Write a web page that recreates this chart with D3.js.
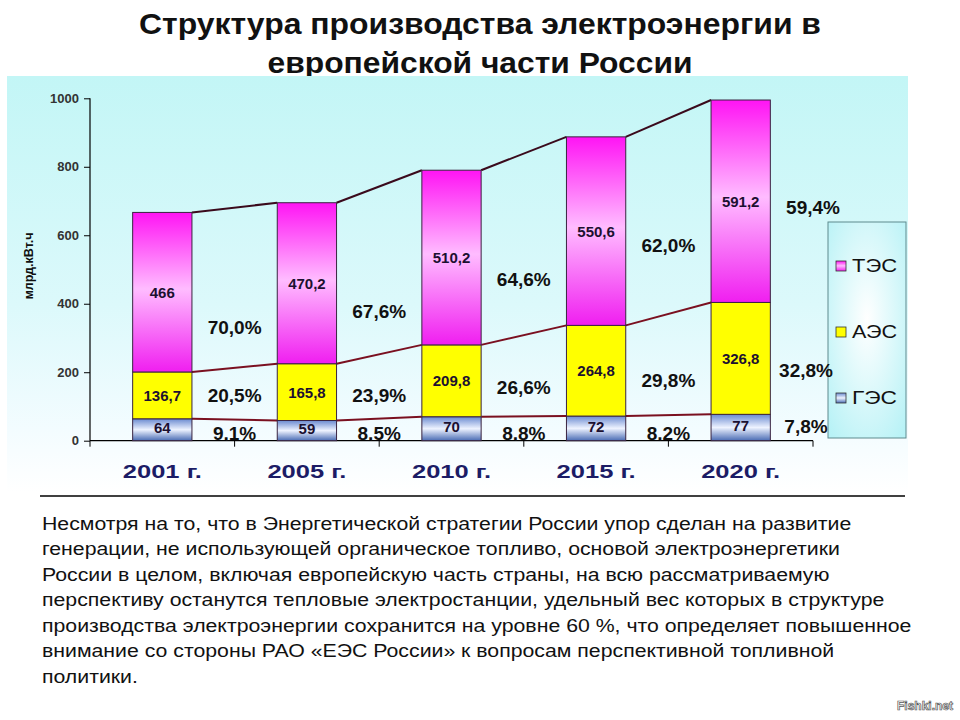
<!DOCTYPE html>
<html>
<head>
<meta charset="utf-8">
<script src="https://cdn.jsdelivr.net/npm/d3@7"></script>
<style>
  body { margin: 0; background: #fff; }
  svg { display: block; }
</style>
</head>
<body>
<svg id="chart" width="960" height="720"></svg>
<script>
// values
const years = ['2001 г.', '2005 г.', '2010 г.', '2015 г.', '2020 г.'];
const gesValues = [64, 59, 70, 72, 77];
const aesValues = [136.7, 165.8, 209.8, 264.8, 326.8];
const tesValues = [466, 470.2, 510.2, 550.6, 591.2];
const gesShare = [9.1, 8.5, 8.8, 8.2, 7.8];
const aesShare = [20.5, 23.9, 26.6, 29.8, 32.8];
const tesShare = [70.0, 67.6, 64.6, 62.0, 59.4];
const seriesKeys = ['ges', 'aes', 'tes'];
const seriesNames = ['ГЭС', 'АЭС', 'ТЭС'];
const yTicks = [0, 200, 400, 600, 800, 1000];
const yLabel = 'млрд.кВт.ч';
const titleLines = ['Структура производства электроэнергии в', 'европейской части России'];
const noteLines = [
    'Несмотря на то, что в Энергетической стратегии России упор сделан на развитие',
    'генерации, не использующей органическое топливо, основой электроэнергетики',
    'России в целом, включая европейскую часть страны, на всю рассматриваемую',
    'перспективу останутся тепловые электростанции, удельный вес которых в структуре',
    'производства электроэнергии сохранится на уровне 60 %, что определяет повышенное',
    'внимание со стороны РАО «ЕЭС России» к вопросам перспективной топливной',
    'политики.'
];

const rows = years.map((y, i) => ({year: y, ges: gesValues[i], aes: aesValues[i], tes: tesValues[i]}));
const stacked = d3.stack().keys(seriesKeys)(rows);
const shares = {ges: gesShare, aes: aesShare, tes: tesShare};

const svg = d3.select('#chart');
const font = "'Liberation Sans', Arial, sans-serif";
const narrow = "'Liberation Sans Narrow', 'Liberation Sans', Arial, sans-serif";
const comma = v => String(v).replace('.', ',');
const pct = v => d3.format('.1f')(v).replace('.', ',') + '%';

// gradients
let defs = svg.append('defs');
let panelGrad = defs.append('linearGradient').attr('id', 'panel').attr('x1', 0).attr('x2', 0).attr('y1', 0).attr('y2', 1);
panelGrad.append('stop').attr('offset', '0%').attr('stop-color', '#c3f6f6');
panelGrad.append('stop').attr('offset', '55%').attr('stop-color', '#dcf9fb');
panelGrad.append('stop').attr('offset', '85%').attr('stop-color', '#f3fcff');
panelGrad.append('stop').attr('offset', '100%').attr('stop-color', '#ffffff');

let tesGrad = defs.append('linearGradient').attr('id', 'tes').attr('x1', 0).attr('x2', 0).attr('y1', 0).attr('y2', 1);
tesGrad.append('stop').attr('offset', '0%').attr('stop-color', '#ff14f4');
tesGrad.append('stop').attr('offset', '48%').attr('stop-color', '#ffbcff');
tesGrad.append('stop').attr('offset', '100%').attr('stop-color', '#f01ef0');

let gesGrad = defs.append('linearGradient').attr('id', 'ges').attr('x1', 0).attr('x2', 0).attr('y1', 0).attr('y2', 1);
gesGrad.append('stop').attr('offset', '0%').attr('stop-color', '#6a8ad0');
gesGrad.append('stop').attr('offset', '50%').attr('stop-color', '#eef3ff');
gesGrad.append('stop').attr('offset', '100%').attr('stop-color', '#4a6cb4');

let legendGrad = defs.append('radialGradient').attr('id', 'legendBg').attr('cx', '50%').attr('cy', '45%').attr('r', '70%');
legendGrad.append('stop').attr('offset', '0%').attr('stop-color', '#ffffff');
legendGrad.append('stop').attr('offset', '100%').attr('stop-color', '#b8f2f6');

const fills = {ges: 'url(#ges)', aes: '#ffff00', tes: 'url(#tes)'};

// title (the panel is laid over its lower edge, like on the slide)
svg.selectAll('text.title').data(titleLines).join('text')
    .attr('class', 'title')
    .attr('x', 480).attr('y', (d, i) => 34 + i * 39)
    .attr('text-anchor', 'middle')
    .attr('font-family', narrow).attr('font-weight', 'bold').attr('font-size', 30)
    .attr('textLength', (d, i) => i === 0 ? 682 : 425).attr('lengthAdjust', 'spacingAndGlyphs')
    .attr('fill', '#111')
    .text(d => d);

svg.append('rect').attr('x', 7).attr('y', 76).attr('width', 901).attr('height', 416).attr('fill', 'url(#panel)');

// scales
const x = d3.scaleBand().domain(years).range([90, 813]).paddingInner(0).paddingOuter(0);
const y = d3.scaleLinear().domain([0, 1000]).range([440.7, 98.3]);
const bw = x.bandwidth();
const barW = bw * 0.41;
const barX = d => x(d) + (bw - barW) / 2;

defs.append('clipPath').attr('id', 'aboveAxis').append('rect')
    .attr('x', 0).attr('y', 0).attr('width', 960).attr('height', y(0));

// axes
let yAxis = svg.append('g').attr('transform', 'translate(90,0)')
    .call(d3.axisLeft(y).tickValues(yTicks).tickFormat(d3.format('d')).tickSize(6).tickPadding(5));
yAxis.select('.domain').attr('stroke', '#000').attr('stroke-width', 1.2).attr('d', 'M0,' + y(0) + 'V' + y(1000));
yAxis.selectAll('.tick line').attr('stroke', '#000');
yAxis.selectAll('.tick text').attr('font-family', font).attr('font-weight', 'bold')
    .attr('font-size', 13).attr('fill', '#333');

let xAxis = svg.append('g').attr('transform', 'translate(0,' + y(0) + ')');
xAxis.append('line').attr('x1', 90).attr('x2', 813).attr('stroke', '#000').attr('stroke-width', 1.2);
xAxis.selectAll('line.tick').data(years.concat(['end'])).join('line')
    .attr('class', 'tick')
    .attr('x1', (d, i) => 90 + i * bw).attr('x2', (d, i) => 90 + i * bw)
    .attr('y1', 0).attr('y2', 6).attr('stroke', '#000');
xAxis.selectAll('text').data(years).join('text')
    .attr('x', d => x(d) + bw / 2).attr('y', 37)
    .attr('text-anchor', 'middle')
    .attr('font-family', font).attr('font-weight', 'bold').attr('font-size', 19)
    .attr('textLength', 79).attr('lengthAdjust', 'spacingAndGlyphs')
    .attr('fill', '#1c1c66')
    .text(d => d);

svg.append('text')
    .attr('transform', 'translate(33,266) rotate(-90)')
    .attr('text-anchor', 'middle')
    .attr('font-family', font).attr('font-weight', 'bold').attr('font-size', 12)
    .attr('textLength', 67).attr('lengthAdjust', 'spacingAndGlyphs')
    .attr('fill', '#111')
    .text(yLabel);

// legend (drawn before the share labels, which overlap its left border)
let legend = svg.append('g');
legend.append('rect').attr('x', 828).attr('y', 222).attr('width', 78).attr('height', 216)
    .attr('fill', 'url(#legendBg)').attr('stroke', '#5f8a8e').attr('stroke-width', 1);
let items = legend.selectAll('g').data(seriesKeys.slice().reverse()).join('g')
    .attr('transform', (d, i) => 'translate(836,' + (266 + i * 66) + ')');
items.append('rect').attr('x', 0).attr('y', -5).attr('width', 10).attr('height', 10)
    .attr('fill', d => fills[d]).attr('stroke', '#333').attr('stroke-width', 0.8);
items.append('text').attr('x', 16).attr('y', 0).attr('dy', '0.36em')
    .attr('font-family', font).attr('font-size', 18)
    .attr('textLength', 45).attr('lengthAdjust', 'spacingAndGlyphs')
    .attr('fill', '#111')
    .text(d => seriesNames[seriesKeys.indexOf(d)]);

// connecting lines between bar tops
const lineColors = {ges: '#7a1020', aes: '#7a1020', tes: '#3a0a1c'};
stacked.forEach(s => {
    let segs = [];
    for (let i = 0; i < s.length - 1; i++) {
        segs.push([barX(years[i]) + barW, y(s[i][1]), barX(years[i + 1]), y(s[i + 1][1])]);
    }
    svg.append('g').selectAll('line').data(segs).join('line')
        .attr('x1', d => d[0]).attr('y1', d => d[1]).attr('x2', d => d[2]).attr('y2', d => d[3])
        .attr('stroke', lineColors[s.key]).attr('stroke-width', 2);
});

// bars
stacked.forEach(s => {
    let g = svg.append('g');
    g.selectAll('rect').data(s).join('rect')
        .attr('x', d => barX(d.data.year))
        .attr('y', d => y(d[1]))
        .attr('width', barW)
        .attr('height', d => y(d[0]) - y(d[1]))
        .attr('fill', fills[s.key])
        .attr('stroke', '#3a2440').attr('stroke-width', 1);
    g.selectAll('text').data(s).join('text')
        .attr('x', d => barX(d.data.year) + barW / 2)
        .attr('y', d => (y(d[0]) + y(d[1])) / 2 + (s.key === 'ges' ? -2 : 0))
        .attr('dy', '0.36em')
        .attr('text-anchor', 'middle')
        .attr('font-family', font).attr('font-weight', 'bold').attr('font-size', 15)
        .attr('fill', '#1c1030')
        .text(d => comma(d.data[s.key]));
});

// share labels in the gaps; the last column sits a little left of the axis end
const last = years.length - 1;
stacked.forEach(s => {
    let g = svg.append('g');
    if (s.key === 'ges') g.attr('clip-path', 'url(#aboveAxis)');
    g.selectAll('text').data(s).join('text')
        .attr('x', (d, i) => x(d.data.year) + bw - (i === last && s.key !== 'tes' ? 7 : 0))
        .attr('y', (d, i) => {
            if (s.key === 'ges') return i === last ? y(0) - 8 : y(0) - 1;
            if (s.key === 'aes') return (y(d[0]) + y(d[1])) / 2 + 3 * i;
            return y(d[0] + (d[1] - d[0]) * (0.28 + 0.048 * i));
        })
        .attr('dy', s.key === 'ges' ? 0 : '0.36em')
        .attr('text-anchor', 'middle')
        .attr('font-family', font).attr('font-weight', 'bold').attr('font-size', 19)
        .attr('fill', '#111')
        .text((d, i) => pct(shares[s.key][i]));
});

// rule and note
svg.append('line').attr('x1', 40).attr('x2', 905).attr('y1', 496).attr('y2', 496)
    .attr('stroke', '#000').attr('stroke-width', 1.5);

let note = svg.append('g');
let noteText = note.selectAll('text').data(noteLines).join('text')
    .attr('x', 0).attr('y', (d, i) => 530 + i * 25.5)
    .attr('font-family', narrow).attr('font-size', 18.5)
    .attr('fill', '#111')
    .text(d => d);
// squeeze the note so its longest line ends where it does on the slide
let widest = d3.max(noteText.nodes(), n => n.getComputedTextLength());
note.attr('transform', 'translate(42,0) scale(' + (870 / widest) + ',1)');

svg.append('text').attr('x', 953).attr('y', 710).attr('text-anchor', 'end')
    .attr('font-family', font).attr('font-weight', 'bold').attr('font-size', 12)
    .attr('fill', '#fff').attr('stroke', '#555').attr('stroke-width', 0.7)
    .text('Fishki.net');
</script>
</body>
</html>
